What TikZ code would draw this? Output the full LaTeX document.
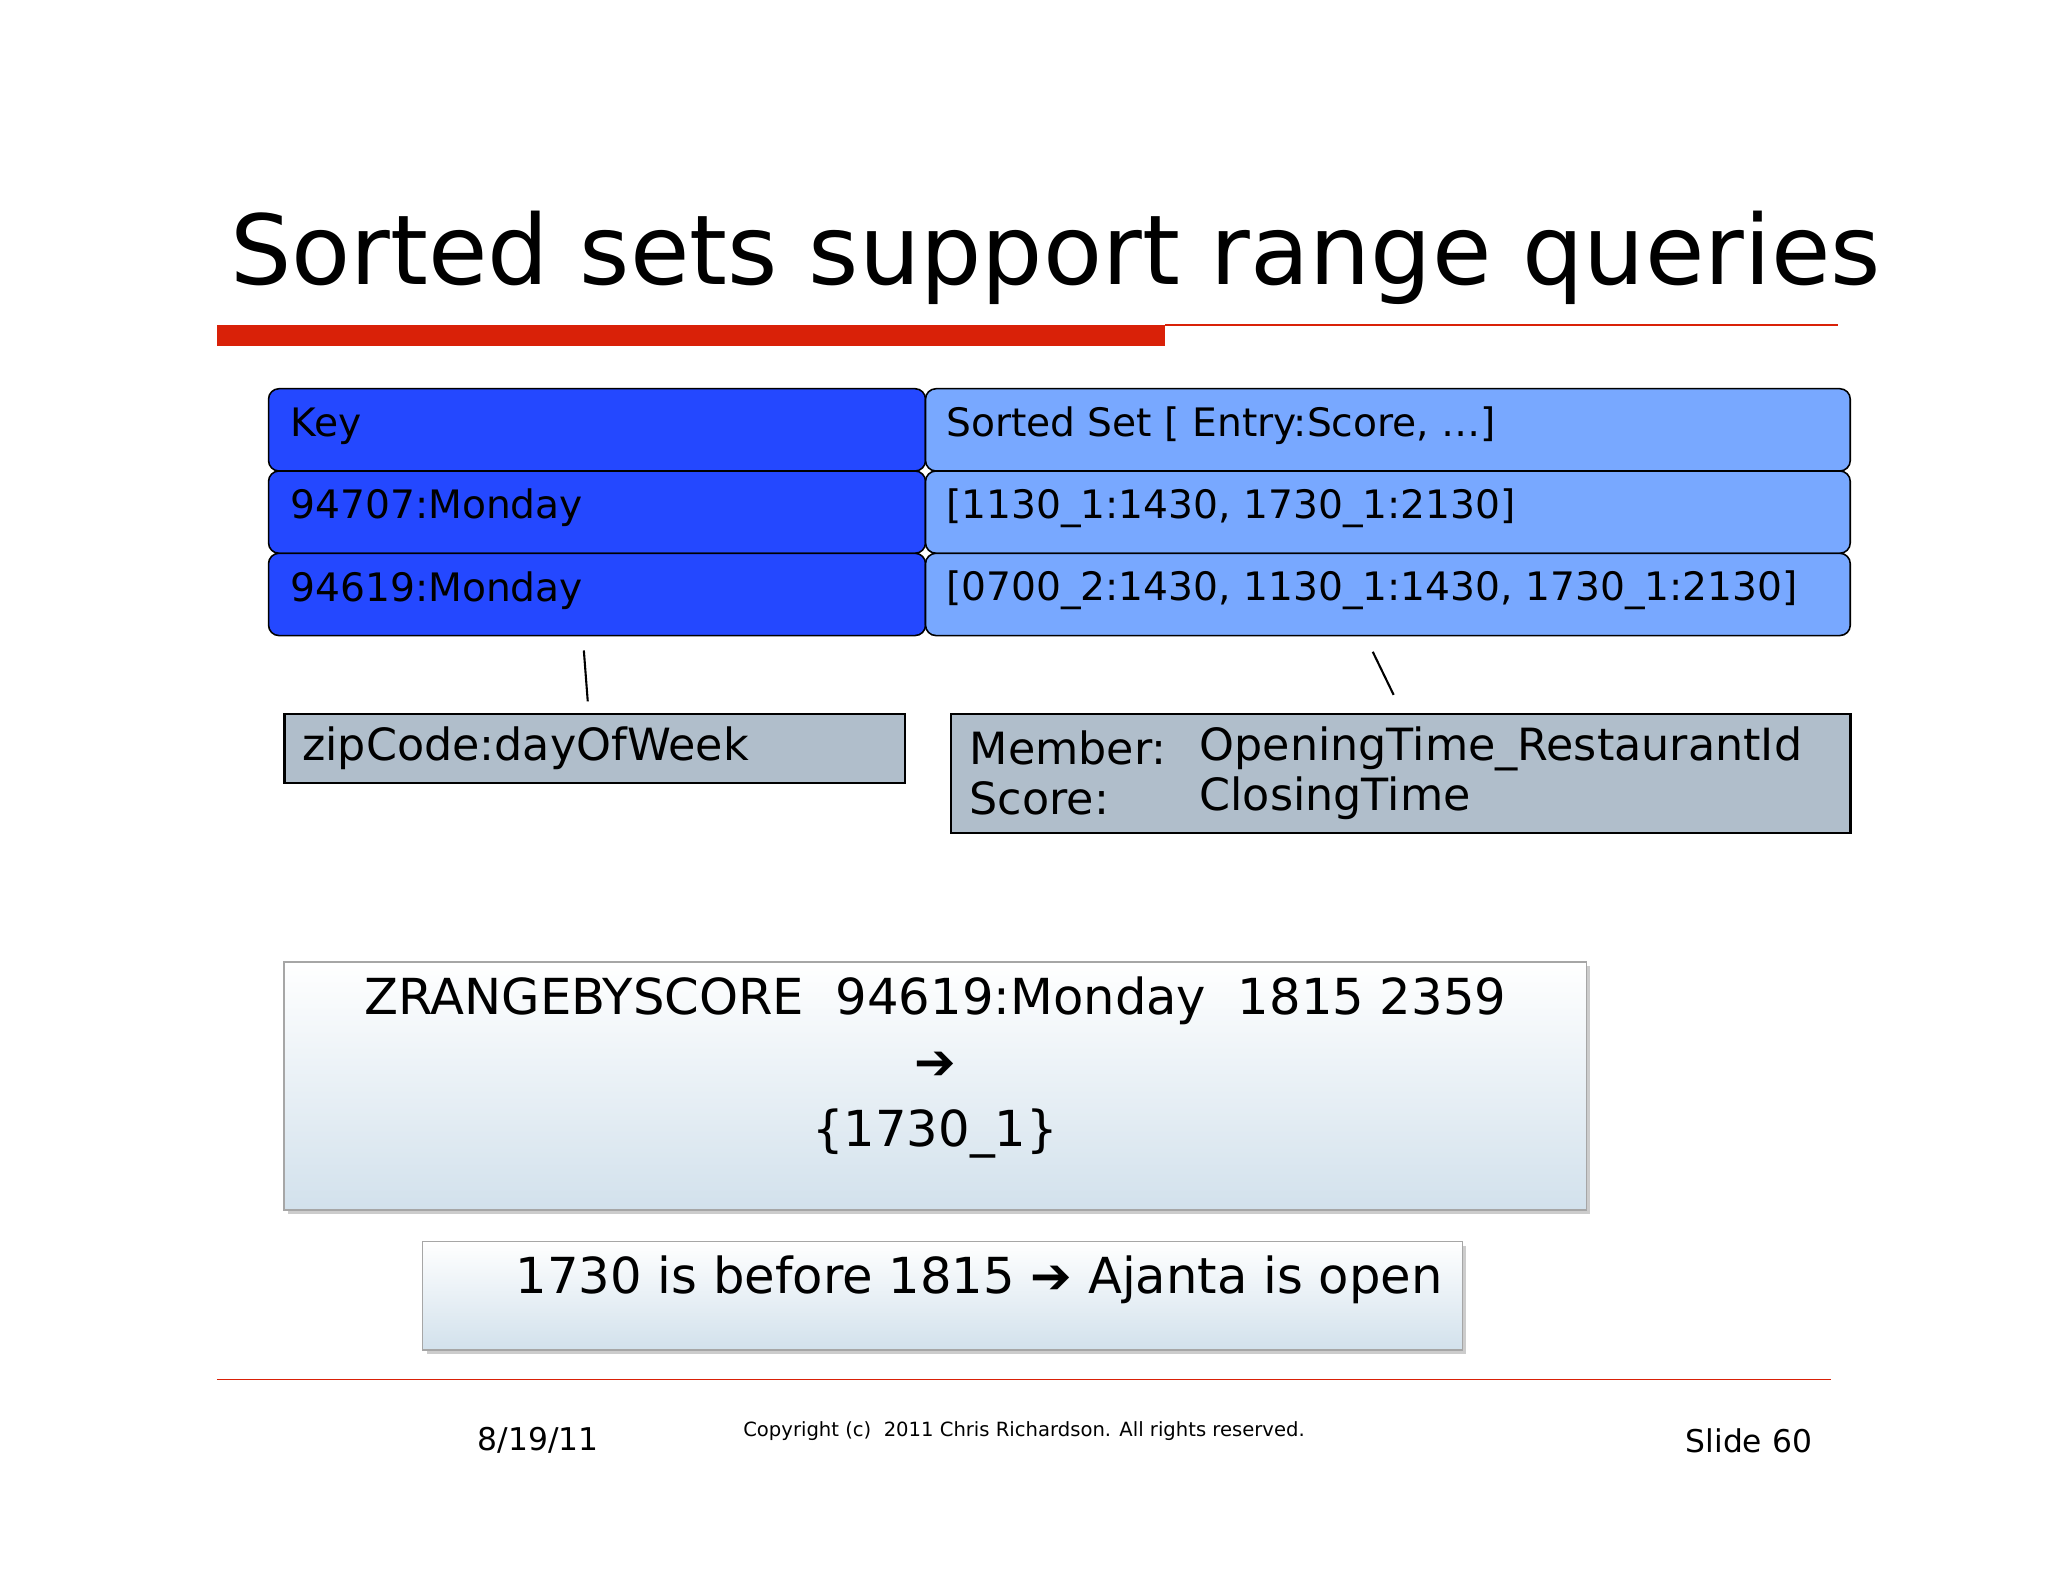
\documentclass[tikz,border=0pt]{standalone}
\usepackage{fontspec}
\setmainfont{DejaVu Sans}
\usetikzlibrary{shadows}
\definecolor{redbar}{HTML}{D92108}
\definecolor{keyblue}{HTML}{2448FF}
\definecolor{setblue}{HTML}{78A8FF}
\definecolor{greybox}{HTML}{B0BECB}
\definecolor{gradbot}{HTML}{D2E1EC}
\tikzset{
  cell/.style={draw=black, line width=0.6pt, rounded corners=4pt, anchor=north west, inner sep=0pt},
  celltext/.style={anchor=west, font=\fontsize{15}{18}\selectfont, inner sep=0pt},
  gbox/.style={draw=black, line width=0.8pt, fill=greybox, anchor=north west, inner sep=0pt},
  pbox/.style={draw=gray!70, line width=0.6pt, top color=white, bottom color=gradbot, drop shadow={shadow xshift=1.5pt, shadow yshift=-1.5pt, opacity=0.4}, anchor=north west, inner sep=0pt},
  conn/.style={line width=0.8pt}
}
\begin{document}
\begin{tikzpicture}[x=0.5pt,y=-0.5pt]
\useasboundingbox[fill=white] (0,0) rectangle (1568,1211);
\node[anchor=base west, inner sep=0pt, font=\fontsize{37}{44}\selectfont] (title) at (176,218) {Sorted sets support range queries};
\fill[redbar] (166,249) rectangle (892,265);
\draw[redbar, line width=0.6pt] (892,249) -- (1407,249);
% table
\foreach \r/\y/\k/\v in {0/297/Key/{Sorted Set [ Entry:Score, …]}, 1/360/94707:Monday/{[1130\_1:1430, 1730\_1:2130]}, 2/423/94619:Monday/{[0700\_2:1430, 1130\_1:1430, 1730\_1:2130]}}{
  \node[cell, fill=keyblue, minimum width=251.5pt, minimum height=31.5pt] (k\r) at (205,\y) {};
  \node[cell, fill=setblue, minimum width=354pt, minimum height=31.5pt] (v\r) at (708,\y) {};
  \node[celltext] (kt\r) at (222,\y+29) {\k};
  \node[celltext] (vt\r) at (724,\y+29) {\v};
}
\coordinate (a1) at (447,498); \coordinate (a2) at (450,537);
\coordinate (b1) at (1051,499); \coordinate (b2) at (1067,532);
\draw[conn] (a1) -- (a2);
\draw[conn] (b1) -- (b2);
\node[gbox, minimum width=237.5pt, minimum height=26.5pt] (zip) at (217,546) {};
\node[anchor=west, inner sep=0pt, font=\fontsize{17}{20}\selectfont] (ziptext) at (231,573) {zipCode:dayOfWeek};
\node[gbox, minimum width=344.5pt, minimum height=45.5pt] (mem) at (727,546) {};
\node[anchor=west, inner sep=0pt, font=\fontsize{17}{20}\selectfont] (m1) at (742,573) {Member:};
\node[anchor=west, inner sep=0pt, font=\fontsize{17}{20}\selectfont] (m2) at (918,573) {OpeningTime\_RestaurantId};
\node[anchor=west, inner sep=0pt, font=\fontsize{17}{20}\selectfont] (s1) at (742,611) {Score:};
\node[anchor=west, inner sep=0pt, font=\fontsize{17}{20}\selectfont] (s2) at (918,611) {ClosingTime};
% query box
\node[pbox, minimum width=498.5pt, minimum height=95pt] (q) at (217,736) {};
\node[inner sep=0pt, font=\fontsize{19}{23}\selectfont] (q1) at (716,766) {ZRANGEBYSCORE\ \ 94619:Monday\ \ 1815 2359};
\node[inner sep=0pt, font=\fontsize{19}{23}\selectfont] (q2) at (716,816) {➔};
\node[inner sep=0pt, font=\fontsize{19}{23}\selectfont] (q3) at (716,868) {\{1730\_1\}};
\node[pbox, minimum width=398pt, minimum height=41.5pt] (r) at (323,950) {};
\node[anchor=east, inner sep=0pt, font=\fontsize{19}{23}\selectfont] (rt) at (1105,980) {1730 is before 1815 ➔ Ajanta is open};
\draw[redbar, line width=0.5pt] (166,1056) -- (1402,1056);
\node[inner sep=0pt, font=\fontsize{12}{14}\selectfont] (date) at (412,1103) {8/19/11};
\node[inner sep=0pt, font=\fontsize{7.5}{9}\selectfont] (copy) at (784,1096) {Copyright (c)\ \ 2011 Chris Richardson. All rights reserved.};
\node[inner sep=0pt, font=\fontsize{12}{14}\selectfont] (slide) at (1339,1103) {Slide 60};
\end{tikzpicture}
\end{document}
